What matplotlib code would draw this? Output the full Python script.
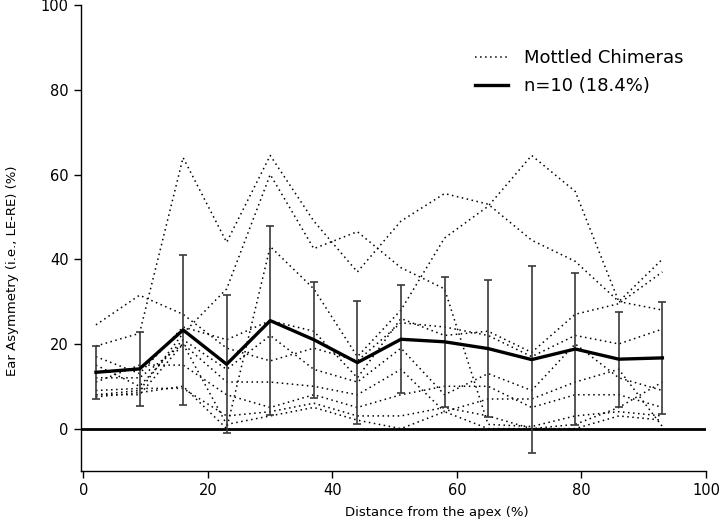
import numpy as np
import matplotlib
matplotlib.use("Agg")
import matplotlib.pyplot as plt

# distance from the apex (%)
distance = [2, 9, 16, 23, 30, 37, 44, 51, 58, 65, 72, 79, 86, 93]

# individual mottled chimeras (ear asymmetry, %)
chimera_1 = [19.5, 22.5, 64, 44, 64.5, 49, 37, 49, 55.5, 53, 44.5, 39.5, 30, 28]
chimera_2 = [24.5, 31.5, 27, 19, 16, 19, 16, 25, 24, 22, 17, 22, 20, 23.5]
chimera_3 = [8, 9, 22.5, 33, 60, 42.5, 46.5, 38, 33, 1, 0.5, 3, 4, 3]
chimera_4 = [7.5, 8.5, 10, 0, 43, 33, 17, 28, 45, 52.5, 64.5, 56, 30, 40]
chimera_5 = [17, 13, 24, 21, 25.5, 23, 12, 26, 22, 23, 18, 27, 29.5, 37]
chimera_6 = [15, 10, 21, 14, 22, 14, 11, 19, 8, 13, 9, 20, 12, 9]
chimera_7 = [12, 12, 20, 11, 11, 10, 8, 14, 4, 7, 7, 11, 14, 0.5]
chimera_8 = [11, 15, 15, 8, 5, 8, 5, 8, 10, 10, 5, 8, 8, 5]
chimera_9 = [9, 9.5, 9.5, 3, 4, 6, 3, 3, 5, 3, 0, 1, 5, 11]
chimera_10 = [8, 8, 20, 1, 3, 5, 2, 0, 4, 0, 0, 0, 3, 2]
chimeras = [chimera_1, chimera_2, chimera_3, chimera_4, chimera_5,
            chimera_6, chimera_7, chimera_8, chimera_9, chimera_10]

# group mean and standard deviation
mean_asym = [13.3, 14.1, 23.3, 15.2, 25.5, 21.0, 15.6, 21.1, 20.5, 18.9, 16.3, 18.8, 16.4, 16.7]
sd_asym = [6.3, 8.7, 17.7, 16.3, 22.3, 13.7, 14.5, 12.8, 15.3, 16.2, 22.0, 18.0, 11.2, 13.2]

fig = plt.figure(figsize=(7.2, 5.27), dpi=100)
ax = fig.add_axes([0.1125, 0.1063, 0.868, 0.884])

for i, vals in enumerate(chimeras):
    ax.plot(distance, vals, color='black', linestyle=(0, (1, 2.3)), linewidth=1.1,
            label='Mottled Chimeras' if i == 0 else None, zorder=2)

ax.axhline(0, color='black', linewidth=2.0, zorder=3)

ax.errorbar(distance, mean_asym, yerr=sd_asym, fmt='none', ecolor='#3a3a3a',
            elinewidth=1.2, capsize=3, capthick=1.2, zorder=4)
ax.plot(distance, mean_asym, color='black', linewidth=2.4,
        label='n=10 (18.4%)', zorder=5)

ax.set_xlim(-0.4, 100)
ax.set_ylim(-10, 100)
ax.set_xticks([0, 20, 40, 60, 80, 100])
ax.set_yticks([0, 20, 40, 60, 80, 100])
ax.spines['top'].set_visible(False)
ax.spines['right'].set_visible(False)
ax.spines['left'].set_linewidth(1.0)
ax.spines['bottom'].set_linewidth(1.0)
ax.tick_params(axis='both', direction='out', length=5, width=1.0,
               labelsize=10.5, colors='black', pad=4)

ax.set_xlabel("Distance from the apex (%)", fontsize=9.5)
ax.set_ylabel("Ear Asymmetry (i.e., LE-RE) (%)", fontsize=9.5)
ax.xaxis.set_label_coords(0.57, -0.075)
ax.yaxis.set_label_coords(-0.1, 0.43)

ax.legend(loc='upper right', bbox_to_anchor=(0.99, 0.94), frameon=False,
          fontsize=13, handlelength=1.8, handletextpad=0.9, labelspacing=0.55)

fig.savefig("out.png", dpi=100)
